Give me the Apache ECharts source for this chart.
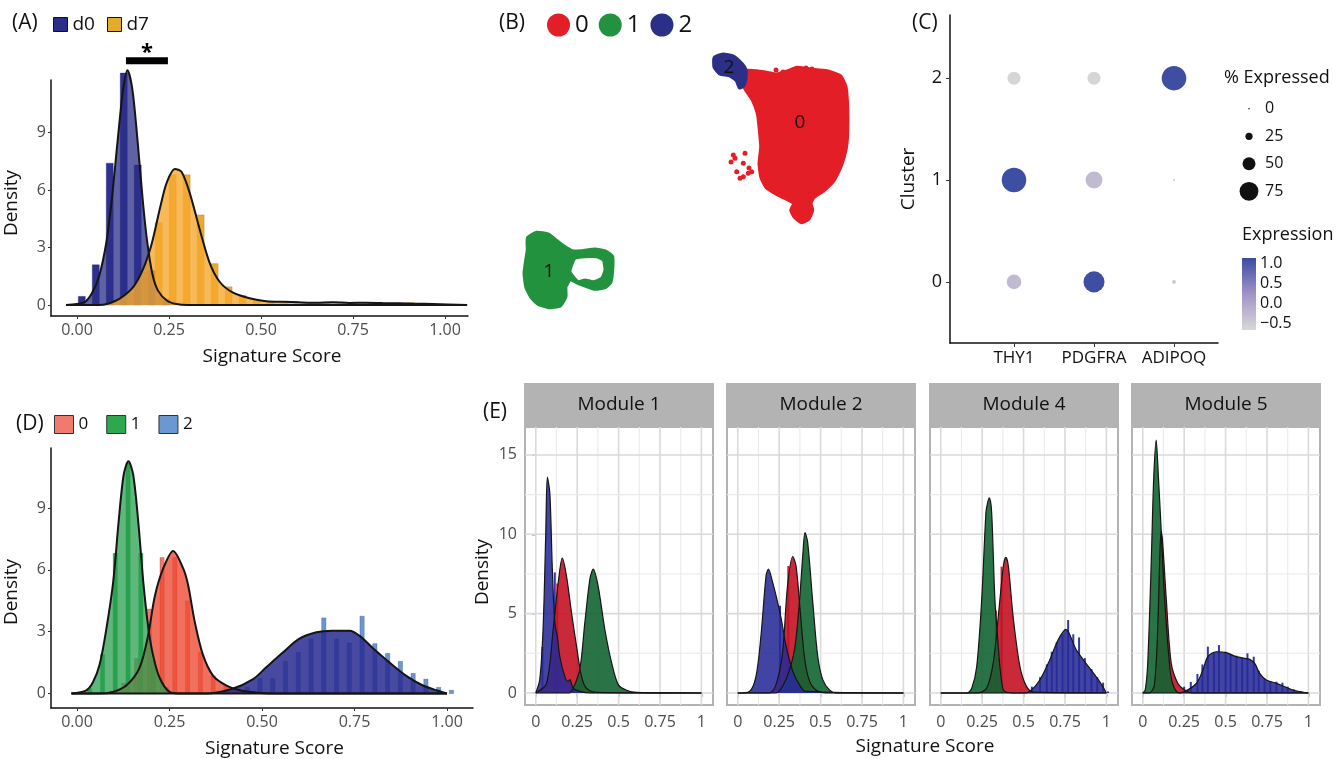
<!DOCTYPE html>
<html lang="en">
<head>
<meta charset="UTF-8">
<script src="https://cdn.jsdelivr.net/npm/echarts@6.0.0/dist/echarts.min.js"></script>
<style>
    html, body { margin: 0; overflow: hidden; background: #fff; }
    #viewport { position: absolute; left: 0; top: 0; width: 1336px; height: 759px; }
</style>
</head>
<body>
<div id="viewport"></div>
<script>
var FONT = '"Open Sans", Lato, sans-serif';

// ---------- (A) signature score, d0 vs d7 ----------
var aXTicks = [0, 0.25, 0.5, 0.75, 1];
var aYTicks = [0, 3, 6, 9];
var aBinW = 0.038;
var aD0Centers = [0.013, 0.051, 0.089, 0.127, 0.165, 0.203, 0.241];
var aD0Heights = [0.45, 2.1, 7.4, 12.1, 7.3, 1.8, 0.3];
var aD7Centers = [0.032, 0.070, 0.108, 0.146, 0.184, 0.222, 0.260, 0.298, 0.336, 0.374, 0.412, 0.450, 0.488, 0.526,
    0.564, 0.602, 0.640, 0.678, 0.716, 0.754, 0.792, 0.830, 0.868, 0.906, 0.944, 0.982, 1.02];
var aD7Heights = [0.02, 0.05, 0.25, 0.6, 1.7, 4.3, 6.8, 6.8, 4.7, 2.16, 0.95, 0.5, 0.3, 0.2,
    0.15, 0.15, 0.12, 0.15, 0.12, 0.12, 0.13, 0.1, 0.1, 0.12, 0.06, 0.05, 0.03];
var aD0DensX = [-0.03, 0.02, 0.04, 0.06, 0.08, 0.095, 0.11, 0.125, 0.137, 0.15, 0.163, 0.178, 0.19, 0.205, 0.22, 0.245, 0.27, 0.30, 1.06];
var aD0DensY = [0, 0.15, 0.6, 1.5, 3.3, 5.6, 8.5, 11.2, 12.25, 11.3, 8.9, 5.6, 3.4, 1.6, 0.75, 0.22, 0.05, 0, 0];
var aD7DensX = [-0.03, 0.06, 0.081, 0.117, 0.153, 0.18, 0.203, 0.226, 0.244, 0.266, 0.284, 0.307, 0.334, 0.361, 0.388, 0.424,
    0.469, 0.514, 0.56, 0.605, 0.65, 0.695, 0.74, 0.785, 0.83, 0.875, 0.92, 0.966, 1.06];
var aD7DensY = [0, 0, 0.05, 0.35, 0.95, 1.9, 3.2, 5.1, 6.4, 7.1, 6.95, 5.8, 3.9, 2.17, 1.2, 0.64,
    0.35, 0.2, 0.17, 0.14, 0.12, 0.14, 0.11, 0.12, 0.1, 0.09, 0.07, 0.05, 0];
var aSigBracket = [0.133, 0.247];
var aSigHeight = 12.75;

// ---------- (B) UMAP outlines ----------
var bRedOutline = [[24.33, 27.83], [25.67, 27.83], [26.67, 27.67], [27.67, 27.5], [28.83, 27.83], [29.67, 28.17], [31.0, 28.0],
    [32.67, 27.83], [34.0, 27.33], [34.5, 26.33], [34.67, 24.33], [34.67, 21.67], [34.5, 20.0], [34.0, 18.33], [33.33, 17.0],
    [32.33, 16.0], [31.33, 15.33], [31.0, 14.67], [31.17, 14.0], [30.83, 13.17], [30.17, 12.83], [29.5, 13.33], [29.17, 14.0],
    [29.5, 14.67], [29.0, 15.0], [27.67, 15.67], [26.67, 16.33], [26.17, 17.33], [26.0, 18.67], [26.17, 20.33], [26.0, 22.33],
    [25.83, 23.67], [25.33, 25.0], [24.67, 26.0], [24.33, 26.67]];
var bGreenOutline = [[2.83, 11.17], [3.67, 11.67], [4.83, 11.5], [5.67, 10.83], [6.33, 10.33], [7.17, 9.83], [8.17, 9.83],
    [9.5, 10.0], [10.5, 9.83], [11.17, 9.33], [11.17, 8.0], [11.0, 6.83], [10.5, 6.33], [9.5, 6.17], [8.5, 6.5], [7.67, 6.83],
    [7.0, 7.17], [6.5, 6.33], [6.5, 5.33], [6.0, 4.5], [4.83, 4.33], [3.83, 4.67], [3.17, 5.33], [2.67, 6.33], [2.5, 7.67],
    [2.67, 9.0], [2.83, 10.0]];
var bGreenHole = [[7.17, 8.5], [7.5, 9.17], [8.5, 9.33], [9.67, 9.33], [10.33, 9.0], [10.5, 8.0], [10.17, 7.17], [9.33, 6.83],
    [8.5, 7.0], [7.83, 6.83], [7.33, 7.33], [7.0, 7.83]];
var bNavyOutline = [[21.5, 29.2], [22.3, 29.5], [23.3, 29.3], [24.2, 28.5], [24.5, 28.0], [24.5, 27.2], [24.3, 26.5], [24.0, 26.3],
    [23.7, 27.0], [23.0, 27.5], [22.0, 27.7], [21.5, 28.3]];
var bStrayRedX = [23.33, 23.5, 24.5, 24.33, 23.67, 24.0, 24.83, 25.17, 24.33, 25.0, 25.83, 23.1, 24.9, 27.6, 28.3, 30.6, 31.2];
var bStrayRedY = [19.5, 19.17, 19.67, 18.67, 17.83, 17.17, 17.67, 17.83, 17.33, 25.67, 24.67, 18.8, 18.2, 28.0, 27.8, 28.2, 28.1];
var bClusters = ['0', '1', '2'];
var bLabelPos = [[30.0, 22.7], [4.9, 7.8], [22.9, 28.2]];

// ---------- (C) dot plot ----------
var cGenes = ['THY1', 'PDGFRA', 'ADIPOQ'];
var cClusterTicks = [0, 1, 2];
var cPctThy1 = [57, 100, 50];     // clusters 0,1,2
var cPctPdgfra = [85, 67, 50];
var cPctAdipoq = [10, 3, 100];
var cExprThy1 = [-0.3, 1.1, -0.65];
var cExprPdgfra = [1.1, -0.3, -0.65];
var cExprAdipoq = [-0.45, -0.55, 1.1];
var cSizeBreaks = [0, 25, 50, 75];
var cExprTicks = [-0.5, 0, 0.5, 1];
var cExprRange = [-0.675, 1.125];
var cExprColors = ['#D8D8D8', '#A193C8', '#3A4CA2'];

// ---------- (D) signature score by cluster ----------
var dXTicks = [0, 0.25, 0.5, 0.75, 1];
var dYTicks = [0, 3, 6, 9];
var dBinW = 0.0345;
var d0Centers = [0.0575, 0.092, 0.1265, 0.161, 0.1955, 0.23, 0.2645, 0.299, 0.3335, 0.368, 0.4025, 0.437, 0.4715, 0.506];
var d0Heights = [0.02, 0.1, 0.5, 1.7, 4.1, 6.6, 6.6, 4.5, 2.0, 0.86, 0.4, 0.2, 0.08, 0.03];
var d1Centers = [0.0, 0.0345, 0.069, 0.1035, 0.138, 0.1725, 0.207, 0.2415, 0.276];
var d1Heights = [0.05, 0.25, 1.9, 6.8, 11.2, 6.8, 1.6, 0.3, 0.05];
var d2Centers = [0.391, 0.4255, 0.46, 0.4945, 0.529, 0.5635, 0.598, 0.6325, 0.667, 0.7015, 0.736, 0.7705, 0.805, 0.8395,
    0.874, 0.9085, 0.943, 0.9775, 1.012];
var d2Heights = [0.05, 0.15, 0.3, 0.73, 0.73, 1.56, 2.0, 2.65, 3.67, 2.65, 2.45, 3.75, 2.42, 1.95, 1.56, 0.98, 0.7, 0.3, 0.16];
var d0DensX = [-0.015, 0.06, 0.097, 0.133, 0.169, 0.192, 0.21, 0.233, 0.26, 0.287, 0.30, 0.318, 0.34, 0.368, 0.404, 0.44, 0.494, 0.55, 1.0];
var d0DensY = [0, 0, 0.08, 0.39, 1.25, 2.8, 4.7, 6.07, 6.92, 6.07, 5.29, 3.5, 1.9, 0.86, 0.39, 0.16, 0.03, 0, 0];
var d1DensX = [-0.015, 0.025, 0.043, 0.061, 0.079, 0.098, 0.112, 0.126, 0.139, 0.152, 0.166, 0.179, 0.192, 0.205, 0.223, 0.25, 0.28, 1.0];
var d1DensY = [0, 0.16, 0.55, 1.4, 3.1, 5.44, 8.24, 10.6, 11.27, 10.6, 8.24, 5.44, 3.3, 1.9, 0.78, 0.08, 0, 0];
var d2DensX = [-0.015, 0.35, 0.42, 0.476, 0.51, 0.557, 0.60, 0.647, 0.69, 0.737, 0.764, 0.8, 0.845, 0.89, 0.935, 0.98, 1.0];
var d2DensY = [0, 0, 0.23, 0.7, 1.25, 2.0, 2.65, 2.97, 3.05, 3.05, 2.8, 2.2, 1.5, 0.86, 0.39, 0.11, 0];

// ---------- (E) module scores ----------
var eModules = ['Module 1', 'Module 2', 'Module 4', 'Module 5'];
var eXTicks = [0, 0.25, 0.5, 0.75, 1];
var eYTicks = [0, 5, 10, 15];
var eGridX = [0, 0.125, 0.25, 0.375, 0.5, 0.625, 0.75, 0.875, 1];
var eGridY = [0, 2.5, 5, 7.5, 10, 12.5, 15];
// Module 1
var m1RedX = [0, 0.065, 0.105, 0.135, 0.16, 0.185, 0.216, 0.246, 0.276, 0.306, 0.367, 1];
var m1RedY = [0, 0.6, 4, 6.9, 8.5, 7.4, 5.05, 2.95, 1.05, 0.3, 0.04, 0];
var m1GreenX = [0, 0.2, 0.226, 0.266, 0.296, 0.327, 0.347, 0.377, 0.417, 0.458, 0.498, 0.548, 0.61, 1];
var m1GreenY = [0, 0, 0.3, 1.5, 4.4, 7.2, 7.8, 6.7, 4, 1.9, 0.53, 0.17, 0.04, 0];
var m1BlueX = [0, 0.024, 0.044, 0.06, 0.07, 0.085, 0.1, 0.115, 0.13, 0.145, 0.175, 0.195, 0.206, 0.226, 0.266, 0.33, 1];
var m1BlueY = [0, 0.84, 4, 9.9, 13.6, 12.6, 7.8, 4.4, 3.6, 2.3, 1.05, 0.74, 0.84, 0.3, 0.1, 0, 0];
var m1RedBars = [[0.13, 6.9]];
var m1BlueBars = [[0.04, 2.9], [0.115, 7.6]];
// Module 2
var m2RedX = [0, 0.19, 0.23, 0.27, 0.3, 0.332, 0.352, 0.376, 0.402, 0.43, 0.47, 0.53, 1];
var m2RedY = [0, 0, 0.5, 2.5, 6.7, 8.6, 8, 5.3, 2.3, 0.84, 0.2, 0, 0];
var m2GreenX = [0, 0.23, 0.29, 0.342, 0.372, 0.392, 0.406, 0.422, 0.453, 0.483, 0.513, 0.553, 0.594, 1];
var m2GreenY = [0, 0, 0.84, 2.7, 5.7, 8.6, 10.1, 9.5, 5.7, 2.3, 0.84, 0.2, 0, 0];
var m2BlueX = [0, 0.07, 0.11, 0.14, 0.171, 0.185, 0.211, 0.241, 0.262, 0.292, 0.332, 0.372, 0.41, 1];
var m2BlueY = [0, 0.1, 1.05, 3.6, 7.4, 7.8, 6.95, 5.7, 4.7, 2.95, 1.37, 0.53, 0.1, 0];
var m2RedBars = [[0.305, 8.0]];
var m2BlueBars = [[0.255, 5.5]];
// Module 4
var m4RedX = [0, 0.22, 0.277, 0.317, 0.347, 0.378, 0.393, 0.408, 0.437, 0.478, 0.518, 0.56, 1];
var m4RedY = [0, 0, 0.3, 1.9, 4.8, 8.0, 8.55, 8.0, 4.8, 1.66, 0.4, 0.05, 0];
var m4GreenX = [0, 0.157, 0.187, 0.217, 0.247, 0.273, 0.283, 0.293, 0.307, 0.327, 0.347, 0.357, 0.377, 0.398, 0.438, 1];
var m4GreenY = [0, 0, 0.3, 1.66, 5.86, 11.4, 12.0, 12.3, 11.4, 5.86, 3.0, 1.66, 0.2, 0.05, 0, 0];
var m4BlueX = [0, 0.5, 0.538, 0.598, 0.658, 0.708, 0.755, 0.819, 0.9, 0.96, 0.99, 1];
var m4BlueY = [0, 0, 0.1, 0.82, 2.08, 3.34, 4.01, 2.7, 1.55, 0.7, 0.19, 0];
var m4RedBars = [[0.333, 5.2], [0.367, 7.96]];
var m4BlueBars = [[0.55, 0.4], [0.60, 1.0], [0.64, 1.8], [0.67, 2.6], [0.70, 3.2], [0.735, 3.7], [0.769, 4.6], [0.80, 3.7],
    [0.835, 3.5], [0.87, 2.2], [0.91, 1.5], [0.945, 1.0], [0.98, 0.65], [1.01, 0.1]];
// Module 5
var m5RedX = [0, 0.04, 0.07, 0.09, 0.104, 0.111, 0.12, 0.141, 0.172, 0.212, 0.252, 0.3, 1];
var m5RedY = [0, 0, 0.5, 4, 9, 10.2, 9.5, 6.07, 1.87, 0.6, 0.19, 0, 0];
var m5GreenX = [0, 0.015, 0.03, 0.051, 0.066, 0.081, 0.095, 0.111, 0.131, 0.161, 0.18, 0.22, 1];
var m5GreenY = [0, 0.2, 1.87, 8.2, 13.5, 15.94, 13.5, 10.3, 6.07, 1.87, 0.6, 0, 0];
var m5BlueX = [0, 0.2, 0.242, 0.323, 0.363, 0.393, 0.444, 0.504, 0.565, 0.615, 0.645, 0.676, 0.706, 0.746, 0.807, 0.847, 0.907, 0.988, 1];
var m5BlueY = [0, 0, 0.05, 0.6, 1.45, 2.29, 2.6, 2.54, 2.29, 2.18, 2.12, 1.87, 1.24, 0.82, 0.61, 0.44, 0.19, 0.02, 0];
var m5RedBars = [];
var m5BlueBars = [[0.25, 0.4], [0.29, 0.7], [0.33, 1.2], [0.36, 1.8], [0.393, 2.92], [0.43, 2.5], [0.46, 3.02], [0.50, 2.6],
    [0.53, 2.45], [0.565, 2.35], [0.60, 2.2], [0.632, 2.5], [0.67, 2.29], [0.70, 1.4], [0.735, 0.9], [0.77, 0.75],
    [0.807, 0.71], [0.843, 0.65], [0.875, 0.4], [0.912, 0.23], [0.95, 0.1]];

// ---------- helpers ----------
function zip(xs, ys) {
    return xs.map(function (x, i) { return [x, ys[i]]; });
}
function sizeOf(pct) {
    return 1.5 + 0.23 * pct;
}

function histSeries(name, gi, barW, data, fill, stroke, clip) {
    return {
        type: 'custom', name: name, coordinateSystem: 'cartesian2d',
        xAxisIndex: gi, yAxisIndex: gi, clip: clip, silent: true,
        itemStyle: { color: fill }, encode: { x: 0, y: 1 }, data: data,
        renderItem: function (params, api) {
            var c = api.value(0), h = api.value(1);
            var p0 = api.coord([c - barW / 2, h]);
            var p1 = api.coord([c + barW / 2, 0]);
            return {
                type: 'rect',
                shape: { x: p0[0], y: p0[1], width: p1[0] - p0[0], height: p1[1] - p0[1] },
                style: { fill: fill, stroke: stroke, lineWidth: 0.6 }
            };
        }
    };
}

function densSeries(name, gi, data, fill, lw, clip) {
    return {
        type: 'line', name: name, xAxisIndex: gi, yAxisIndex: gi, data: data,
        smooth: 0.3, symbol: 'none', clip: clip, silent: true,
        lineStyle: { color: '#151515', width: lw },
        areaStyle: { color: fill, opacity: 1 }
    };
}

function classicX(gi, min, max, ticks) {
    return {
        gridIndex: gi, type: 'value', min: min, max: max,
        axisLine: { onZero: false, lineStyle: { color: '#111', width: 1.5 } },
        axisTick: { show: true, length: 3, customValues: ticks, lineStyle: { color: '#333' } },
        axisLabel: { customValues: ticks, margin: 6, fontSize: 16, color: '#4d4d4d', fontFamily: FONT,
            formatter: function (v) { return v.toFixed(2); } },
        splitLine: { show: false },
        name: 'Signature Score', nameLocation: 'middle', nameGap: 31,
        nameTextStyle: { fontSize: 19, color: '#111', fontFamily: FONT, padding: [0, 0, 0, 25] }
    };
}
function classicY(gi, min, max, ticks, namePad) {
    return {
        gridIndex: gi, type: 'value', min: min, max: max,
        axisLine: { show: true, onZero: false, lineStyle: { color: '#111', width: 1.5 } },
        axisTick: { show: true, length: 3, customValues: ticks, lineStyle: { color: '#333' } },
        axisLabel: { customValues: ticks, margin: 5, fontSize: 16, color: '#4d4d4d', fontFamily: FONT },
        splitLine: { show: false },
        name: 'Density', nameLocation: 'middle', nameGap: 30, nameRotate: 90,
        nameTextStyle: { fontSize: 19, color: '#111', fontFamily: FONT, padding: namePad }
    };
}
function hiddenAxis(gi, min, max) {
    return { gridIndex: gi, type: 'value', min: min, max: max, show: false, splitLine: { show: false } };
}

// ---------- layout ----------
var eLefts = [525, 727, 930, 1132];
var grids = [
    { left: 51, top: 80, width: 417, height: 236 },     // 0 A
    { left: 500, top: 40, width: 370, height: 310 },    // 1 B
    { left: 950, top: 15, width: 268, height: 328 },    // 2 C
    { left: 1242, top: 258, width: 14, height: 72 },    // 3 C colour bar
    { left: 1240, top: 95, width: 18, height: 110 },    // 4 C size legend
    { left: 51, top: 448, width: 422, height: 270 }     // 5 D
];
eLefts.forEach(function (l) {
    grids.push({ left: l, top: 427, width: 188, height: 278, show: true, borderColor: '#B3B3B3', borderWidth: 2 });
});

var xAxes = [
    classicX(0, -0.0707, 1.0625, aXTicks),
    hiddenAxis(1, 0, 37),
    {
        gridIndex: 2, type: 'value', min: -0.8, max: 2.55,
        axisLine: { onZero: false, lineStyle: { color: '#111', width: 1.5 } },
        axisTick: { customValues: [0, 1, 2], length: 4, lineStyle: { color: '#333' } },
        axisLabel: { customValues: [0, 1, 2], margin: 7, fontSize: 17, color: '#111', fontFamily: FONT,
            formatter: function (v) { return cGenes[v]; } },
        splitLine: { show: false }
    },
    hiddenAxis(3, 0, 1),
    hiddenAxis(4, 0, 1),
    classicX(5, -0.0703, 1.0703, dXTicks)
];
var yAxes = [
    classicY(0, -0.574, 11.74, aYTicks, [0, 10, 0, 0]),
    hiddenAxis(1, 0, 31),
    {
        gridIndex: 2, type: 'value', min: -0.6, max: 2.62,
        axisLine: { show: true, onZero: false, lineStyle: { color: '#111', width: 1.5 } },
        axisTick: { show: true, customValues: cClusterTicks, length: 4, lineStyle: { color: '#333' } },
        axisLabel: { customValues: cClusterTicks, margin: 8, fontSize: 18, color: '#111', fontFamily: FONT },
        splitLine: { show: false },
        name: 'Cluster', nameLocation: 'middle', nameGap: 32, nameRotate: 90,
        nameTextStyle: { fontSize: 19, color: '#111', fontFamily: FONT }
    },
    {
        gridIndex: 3, type: 'value', min: cExprRange[0], max: cExprRange[1], position: 'right',
        axisLine: { show: false }, axisTick: { show: false }, splitLine: { show: false },
        axisLabel: { customValues: cExprTicks, margin: 4, fontSize: 16, color: '#111', fontFamily: FONT,
            formatter: function (v) { return (v < 0 ? '\u2212' : '') + Math.abs(v).toFixed(1); } }
    },
    {
        gridIndex: 4, type: 'category', inverse: true, position: 'right',
        data: cSizeBreaks.map(String),
        axisLine: { show: false }, axisTick: { show: false }, splitLine: { show: false },
        axisLabel: { margin: 7, fontSize: 16, color: '#111', fontFamily: FONT }
    },
    classicY(5, -0.7, 11.91, dYTicks, [0, 28, 0, 0])
];
eLefts.forEach(function (l, i) {
    var gi = 6 + i;
    xAxes.push({
        gridIndex: gi, type: 'value', min: -0.065, max: 1.07,
        axisLine: { show: false },
        axisTick: { show: true, customValues: eXTicks, length: 4, lineStyle: { color: '#B3B3B3', width: 1.5 } },
        axisLabel: { customValues: eXTicks, margin: 9, fontSize: 16, color: '#4d4d4d', fontFamily: FONT,
            formatter: function (v) { return String(v); } },
        splitLine: { show: false }
    });
    var y = {
        gridIndex: gi, type: 'value', min: -0.756, max: 16.76,
        axisLine: { show: false }, splitLine: { show: false },
        axisTick: { show: i === 0, customValues: eYTicks, length: 4, lineStyle: { color: '#B3B3B3', width: 1.5 } },
        axisLabel: { show: i === 0, customValues: eYTicks, margin: 8, fontSize: 16, color: '#4d4d4d', fontFamily: FONT }
    };
    if (i === 0) {
        y.name = 'Density';
        y.nameLocation = 'middle';
        y.nameGap = 33;
        y.nameRotate = 90;
        y.nameTextStyle = { fontSize: 19, color: '#111', fontFamily: FONT, padding: [0, 12, 0, 0] };
    }
    yAxes.push(y);
});

// ---------- series ----------
var series = [];

// A
series.push(histSeries('d0', 0, aBinW / 2, zip(aD0Centers, aD0Heights), '#2E3192', 'rgba(20,20,60,0.5)', false));
series.push(histSeries('d7', 0, aBinW / 2, zip(aD7Centers, aD7Heights), '#EBA92D', 'rgba(120,80,0,0.35)', false));
series.push(densSeries('d0dens', 0, zip(aD0DensX, aD0DensY), 'rgba(43,46,136,0.75)', 2, false));
series.push(densSeries('d7dens', 0, zip(aD7DensX, aD7DensY), 'rgba(246,169,46,0.8)', 2, false));
series.push({
    type: 'custom', coordinateSystem: 'cartesian2d', xAxisIndex: 0, yAxisIndex: 0, clip: false, silent: true,
    data: [[aSigBracket[0], aSigHeight, aSigBracket[1]]], encode: { x: 0, y: 1 },
    renderItem: function (params, api) {
        var p0 = api.coord([api.value(0), api.value(1)]);
        var p1 = api.coord([api.value(2), api.value(1)]);
        return {
            type: 'group', children: [
                { type: 'rect', shape: { x: p0[0], y: p0[1] - 3.5, width: p1[0] - p0[0], height: 7 }, style: { fill: '#000' } },
                { type: 'text', x: (p0[0] + p1[0]) / 2, y: p0[1] - 8,
                  style: { text: '*', fill: '#000', fontSize: 22, fontWeight: 'bold', fontFamily: FONT, align: 'center', verticalAlign: 'middle' } }
            ]
        };
    }
});

// B
var bColors = ['#E41E26', '#22923F', '#2B2F86'];
var bShapes = [
    { outer: bRedOutline },
    { outer: bGreenOutline, hole: bGreenHole },
    { outer: bNavyOutline }
];
bClusters.forEach(function (name, k) {
    series.push({
        type: 'custom', name: 'B' + name, coordinateSystem: 'cartesian2d', xAxisIndex: 1, yAxisIndex: 1, silent: true,
        itemStyle: { color: bColors[k] },
        data: [[bLabelPos[k][0], bLabelPos[k][1], k]], encode: { x: 0, y: 1 },
        renderItem: function (params, api) {
            var id = api.value(2);
            var shp = bShapes[id];
            var col = bColors[id];
            var kids = [{
                type: 'polygon', shape: { points: shp.outer.map(function (p) { return api.coord(p); }), smooth: 0.15 },
                style: { fill: col, stroke: col, lineWidth: 5, lineJoin: 'round' }
            }];
            if (shp.hole) {
                kids.push({
                    type: 'polygon', shape: { points: shp.hole.map(function (p) { return api.coord(p); }), smooth: 0.15 },
                    style: { fill: '#fff', stroke: col, lineWidth: 3, lineJoin: 'round' }
                });
            }
            var c = api.coord([api.value(0), api.value(1)]);
            kids.push({
                type: 'text', x: c[0], y: c[1],
                style: { text: bClusters[id], fill: '#111', fontSize: 19, fontFamily: FONT, align: 'center', verticalAlign: 'middle' }
            });
            return { type: 'group', children: kids };
        }
    });
});
series.push({
    type: 'scatter', name: 'B0', xAxisIndex: 1, yAxisIndex: 1, silent: true,
    symbolSize: 5, itemStyle: { color: bColors[0], opacity: 1 },
    data: zip(bStrayRedX, bStrayRedY)
});

// C
var cDotData = [];
[cPctThy1, cPctPdgfra, cPctAdipoq].forEach(function (pcts, g) {
    var ex = [cExprThy1, cExprPdgfra, cExprAdipoq][g];
    pcts.forEach(function (p, c) { cDotData.push([g, c, p, ex[c]]); });
});
var cDotIndex = series.length;
series.push({
    type: 'scatter', xAxisIndex: 2, yAxisIndex: 2, silent: true,
    symbolSize: function (v) { return sizeOf(v[2]); },
    itemStyle: { opacity: 1 }, data: cDotData
});
series.push({
    type: 'custom', coordinateSystem: 'cartesian2d', xAxisIndex: 3, yAxisIndex: 3, silent: true,
    data: [[0, cExprRange[0], 1, cExprRange[1]]], encode: { x: [0, 2], y: [1, 3] },
    renderItem: function (params, api) {
        var p0 = api.coord([api.value(0), api.value(3)]);
        var p1 = api.coord([api.value(2), api.value(1)]);
        return {
            type: 'rect', shape: { x: p0[0], y: p0[1], width: p1[0] - p0[0], height: p1[1] - p0[1] },
            style: {
                fill: {
                    type: 'linear', x: 0, y: 1, x2: 0, y2: 0,
                    colorStops: cExprColors.map(function (c, i) { return { offset: i / (cExprColors.length - 1), color: c }; })
                }
            }
        };
    }
});
series.push({
    type: 'scatter', xAxisIndex: 4, yAxisIndex: 4, silent: true,
    symbolSize: function (v) { return sizeOf(v[2]); },
    itemStyle: { color: '#111', opacity: 1 },
    data: cSizeBreaks.map(function (b, i) { return [0.5, i, b]; })
});

// D
var dBarW = dBinW / 3;
series.push(histSeries('D0', 5, dBarW, zip(d0Centers, d0Heights), '#F07A6E', 'rgba(90,20,20,0.35)', true));
series.push(histSeries('D1', 5, dBarW, zip(d1Centers, d1Heights), '#2EA84E', 'rgba(10,60,20,0.35)', true));
series.push(histSeries('D2', 5, dBarW, zip(d2Centers, d2Heights), '#6C98D2', 'rgba(20,40,90,0.45)', true));
series.push(densSeries('D0dens', 5, zip(d0DensX, d0DensY), 'rgba(236,72,48,0.78)', 2, true));
series.push(densSeries('D1dens', 5, zip(d1DensX, d1DensY), 'rgba(40,160,80,0.75)', 2, true));
series.push(densSeries('D2dens', 5, zip(d2DensX, d2DensY), 'rgba(40,42,145,0.85)', 2, true));

// E
var eFacets = [
    { red: zip(m1RedX, m1RedY), green: zip(m1GreenX, m1GreenY), blue: zip(m1BlueX, m1BlueY), redBars: m1RedBars, blueBars: m1BlueBars },
    { red: zip(m2RedX, m2RedY), green: zip(m2GreenX, m2GreenY), blue: zip(m2BlueX, m2BlueY), redBars: m2RedBars, blueBars: m2BlueBars },
    { red: zip(m4RedX, m4RedY), green: zip(m4GreenX, m4GreenY), blue: zip(m4BlueX, m4BlueY), redBars: m4RedBars, blueBars: m4BlueBars },
    { red: zip(m5RedX, m5RedY), green: zip(m5GreenX, m5GreenY), blue: zip(m5BlueX, m5BlueY), redBars: m5RedBars, blueBars: m5BlueBars }
];
var eGridData = eGridX.map(function (v) { return [v, 0]; }).concat(eGridY.map(function (v) { return [v, 1]; }));
eFacets.forEach(function (f, i) {
    var gi = 6 + i;
    series.push({
        type: 'custom', coordinateSystem: 'cartesian2d', xAxisIndex: gi, yAxisIndex: gi, silent: true, z: 1,
        data: eGridData,
        renderItem: function (params, api) {
            var v = api.value(0), dir = api.value(1);
            var cs = params.coordSys;
            var major = dir === 0 ? Math.abs(v * 4 - Math.round(v * 4)) < 1e-6 : v % 5 === 0;
            var st = { stroke: major ? '#DADADA' : '#EAEAEA', lineWidth: major ? 1.6 : 1.1 };
            if (dir === 0) {
                var x = api.coord([v, 0])[0];
                return { type: 'line', shape: { x1: x, y1: cs.y, x2: x, y2: cs.y + cs.height }, style: st };
            }
            var y = api.coord([0, v])[1];
            return { type: 'line', shape: { x1: cs.x, y1: y, x2: cs.x + cs.width, y2: y }, style: st };
        }
    });
    series.push(histSeries('Ered' + i, gi, 0.012, f.redBars, '#D42030', 'none', true));
    series.push(histSeries('Eblue' + i, gi, 0.012, f.blueBars, '#3438A0', 'none', true));
    series.push(densSeries('EredD' + i, gi, f.red, 'rgba(196,18,36,0.9)', 1.2, true));
    series.push(densSeries('EgreenD' + i, gi, f.green, 'rgba(18,100,50,0.9)', 1.2, true));
    series.push(densSeries('EblueD' + i, gi, f.blue, 'rgba(40,42,150,0.88)', 1.2, true));
});

// ---------- graphics ----------
var graphics = [];
function label(text, x, y, size, align) {
    graphics.push({
        type: 'text', x: x, y: y,
        style: { text: text, fill: '#111', fontSize: size, fontFamily: FONT, align: align || 'left', verticalAlign: 'middle' }
    });
}
label('(A)', 12, 23, 21);
label('(B)', 499, 23, 21);
label('(C)', 912, 23, 21);
label('(D)', 16, 424, 21);
label('(E)', 483, 412, 21);
label('% Expressed', 1224, 78, 18);
label('Expression', 1242, 235, 18);
label('Signature Score', 925, 747, 19, 'center');
eLefts.forEach(function (l, i) {
    graphics.push({ type: 'rect', shape: { x: l - 1, y: 383, width: 190, height: 44 }, style: { fill: '#B3B3B3' } });
    label(eModules[i], l + 94, 405, 19, 'center');
});

var option = {
    animation: false,
    textStyle: { fontFamily: FONT },
    grid: grids,
    xAxis: xAxes,
    yAxis: yAxes,
    visualMap: [{
        type: 'continuous', show: false, seriesIndex: cDotIndex, dimension: 3,
        min: cExprRange[0], max: cExprRange[1], inRange: { color: cExprColors }
    }],
    legend: [
        {
            left: 53, top: 15, padding: 0, icon: 'rect', itemWidth: 14, itemHeight: 14, itemGap: 12, selectedMode: false,
            textStyle: { fontSize: 19, color: '#111', fontFamily: FONT },
            data: [
                { name: 'd0', itemStyle: { color: '#2B2E88', borderColor: '#111', borderWidth: 1 } },
                { name: 'd7', itemStyle: { color: '#E5AB2E', borderColor: '#111', borderWidth: 1 } }
            ]
        },
        {
            left: 547, top: 13, padding: 0, icon: 'circle', itemWidth: 23, itemHeight: 23, itemGap: 10, selectedMode: false,
            textStyle: { fontSize: 24, color: '#111', fontFamily: FONT },
            formatter: function (n) { return n.slice(1); },
            data: bClusters.map(function (c, k) { return { name: 'B' + c, itemStyle: { color: bColors[k] } }; })
        },
        {
            left: 54, top: 415, padding: 0, icon: 'rect', itemWidth: 19, itemHeight: 18, itemGap: 18, selectedMode: false,
            textStyle: { fontSize: 17, color: '#111', fontFamily: FONT },
            formatter: function (n) { return n.slice(1); },
            data: [
                { name: 'D0', itemStyle: { color: '#F07A6E', borderColor: '#333', borderWidth: 1 } },
                { name: 'D1', itemStyle: { color: '#2EA84E', borderColor: '#333', borderWidth: 1 } },
                { name: 'D2', itemStyle: { color: '#6C98D2', borderColor: '#333', borderWidth: 1 } }
            ]
        }
    ],
    graphic: graphics,
    series: series
};

var myChart = echarts.init(document.getElementById('viewport'), null, { renderer: 'canvas' });
myChart.setOption(option);
</script>
</body>
</html>
